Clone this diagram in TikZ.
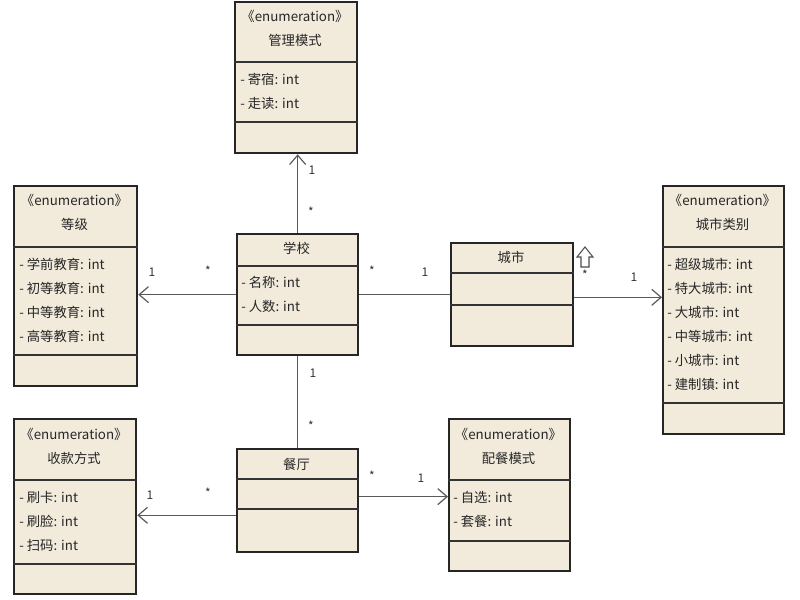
\documentclass[tikz,border=0pt]{standalone}
\usepackage{fontspec}
\setmainfont{Noto Sans CJK SC}
\usetikzlibrary{arrows.meta}

\newcommand{\px}{0.75pt}
\definecolor{classfill}{HTML}{F2EBDC}
\definecolor{linegray}{HTML}{5A5A5A}

\tikzset{
    classbox/.style={draw=black!85, fill=classfill, line width=1.7pt, inner sep=0pt, anchor=north west},
    divider/.style={draw=black!80, line width=1pt},
    attr/.style={anchor=west, inner sep=0pt, font=\fontsize{10}{12}\selectfont, text=black!85},
    title/.style={inner sep=0pt, font=\fontsize{10}{12}\selectfont, text=black!85},
    assoc/.style={draw=linegray, line width=0.9pt},
    nav/.style={assoc, -{Straight Barb[length=7pt, width=12pt]}},
    mult/.style={inner sep=0pt, font=\fontsize{9}{11}\selectfont, text=black!80},
}

\begin{document}
\begin{tikzpicture}[x=\px, y=-\px]
    \useasboundingbox (0, 0) rectangle (800, 600);

    % 管理模式
    \node[classbox, minimum width=122*\px, minimum height=151*\px] (guanli) at (234, 1) {};
    \draw[divider] (guanli.west |- 0, 62) -- (guanli.east |- 0, 62);
    \draw[divider] (guanli.west |- 0, 122) -- (guanli.east |- 0, 122);
    \node[title] (guanlist) at (295, 16) {《enumeration》};
    \node[title] (guanliname) at (295, 40) {管理模式};
    \node[attr] (guanlia) at (240, 79) {- 寄宿: int};
    \node[attr] (guanlib) at (240, 103) {- 走读: int};

    % 等级
    \node[classbox, minimum width=123*\px, minimum height=200*\px] (dengji) at (13, 185) {};
    \draw[divider] (dengji.west |- 0, 247) -- (dengji.east |- 0, 247);
    \draw[divider] (dengji.west |- 0, 355) -- (dengji.east |- 0, 355);
    \node[title] (dengjist) at (74.5, 200) {《enumeration》};
    \node[title] (dengjiname) at (74.5, 224) {等级};
    \node[attr] (dengjia) at (19, 264) {- 学前教育: int};
    \node[attr] (dengjib) at (19, 288) {- 初等教育: int};
    \node[attr] (dengjic) at (19, 312) {- 中等教育: int};
    \node[attr] (dengjid) at (19, 336) {- 高等教育: int};

    % 学校
    \node[classbox, minimum width=121*\px, minimum height=121*\px] (xuexiao) at (236, 233) {};
    \draw[divider] (xuexiao.west |- 0, 266) -- (xuexiao.east |- 0, 266);
    \draw[divider] (xuexiao.west |- 0, 325) -- (xuexiao.east |- 0, 325);
    \node[title] (xuexiaoname) at (296.5, 248) {学校};
    \node[attr] (xuexiaoa) at (241, 282) {- 名称: int};
    \node[attr] (xuexiaob) at (241, 306) {- 人数: int};

    % 城市
    \node[classbox, minimum width=122*\px, minimum height=103*\px] (chengshi) at (450, 242) {};
    \draw[divider] (chengshi.west |- 0, 273) -- (chengshi.east |- 0, 273);
    \draw[divider] (chengshi.west |- 0, 305) -- (chengshi.east |- 0, 305);
    \node[title] (chengshiname) at (511, 257) {城市};

    % 城市类别
    \node[classbox, minimum width=121*\px, minimum height=248*\px] (leibie) at (662, 185) {};
    \draw[divider] (leibie.west |- 0, 247) -- (leibie.east |- 0, 247);
    \draw[divider] (leibie.west |- 0, 403) -- (leibie.east |- 0, 403);
    \node[title] (leibiest) at (722.5, 200) {《enumeration》};
    \node[title] (leibiename) at (722.5, 224) {城市类别};
    \node[attr] (leibiea) at (667, 264) {- 超级城市: int};
    \node[attr] (leibieb) at (667, 288) {- 特大城市: int};
    \node[attr] (leibiec) at (667, 312) {- 大城市: int};
    \node[attr] (leibied) at (667, 336) {- 中等城市: int};
    \node[attr] (leibiee) at (667, 360) {- 小城市: int};
    \node[attr] (leibief) at (667, 384) {- 建制镇: int};

    % 收款方式
    \node[classbox, minimum width=122*\px, minimum height=175*\px] (shoukuan) at (13, 418) {};
    \draw[divider] (shoukuan.west |- 0, 480) -- (shoukuan.east |- 0, 480);
    \draw[divider] (shoukuan.west |- 0, 564) -- (shoukuan.east |- 0, 564);
    \node[title] (shoukuanst) at (74, 434) {《enumeration》};
    \node[title] (shoukuanname) at (74, 458) {收款方式};
    \node[attr] (shoukuana) at (19, 497) {- 刷卡: int};
    \node[attr] (shoukuanb) at (19, 521) {- 刷脸: int};
    \node[attr] (shoukuanc) at (19, 545) {- 扫码: int};

    % 餐厅
    \node[classbox, minimum width=121*\px, minimum height=103*\px] (canting) at (236, 448) {};
    \draw[divider] (canting.west |- 0, 479) -- (canting.east |- 0, 479);
    \draw[divider] (canting.west |- 0, 509) -- (canting.east |- 0, 509);
    \node[title] (cantingname) at (296.5, 464) {餐厅};

    % 配餐模式
    \node[classbox, minimum width=121*\px, minimum height=152*\px] (peican) at (448, 418) {};
    \draw[divider] (peican.west |- 0, 480) -- (peican.east |- 0, 480);
    \draw[divider] (peican.west |- 0, 541) -- (peican.east |- 0, 541);
    \node[title] (peicanst) at (508.5, 434) {《enumeration》};
    \node[title] (peicanname) at (508.5, 458) {配餐模式};
    \node[attr] (peicana) at (453, 497) {- 自选: int};
    \node[attr] (peicanb) at (453, 521) {- 套餐: int};


    % associations
    \draw[nav] (xuexiao.north) -- (xuexiao.north |- guanli.south);
    \node[mult] at (312, 170) {1};
    \node[mult] at (311, 212) {*};

    \draw[nav] (xuexiao.west) -- (xuexiao.west -| dengji.east);
    \node[mult] at (152, 272) {1};
    \node[mult] at (208, 271) {*};

    \draw[assoc] (xuexiao.east) -- (xuexiao.east -| chengshi.west);
    \node[mult] at (372, 271) {*};
    \node[mult] at (425, 272) {1};

    \draw[nav] ([yshift=-2pt]chengshi.east) -- ([yshift=-2pt]chengshi.east -| leibie.west);
    % hollow up arrow
    \draw[draw=black!70, line width=0.8pt, fill=white, line join=miter]
        (585, 247) -- (593, 257) -- (589, 257) -- (589, 267) -- (581, 267)
        -- (581, 257) -- (577, 257) -- cycle;
    \node[mult] at (585, 275) {*};
    \node[mult] at (634, 277) {1};

    \draw[assoc] (xuexiao.south) -- (xuexiao.south |- canting.north);
    \node[mult] at (313, 373) {1};
    \node[mult] at (311, 426) {*};

    \draw[nav] ([yshift=-11pt]canting.west) -- ([yshift=-11pt]canting.west -| shoukuan.east);
    \node[mult] at (150, 495) {1};
    \node[mult] at (208, 493) {*};

    \draw[nav] ([yshift=3pt]canting.east) -- ([yshift=3pt]canting.east -| peican.west);
    \node[mult] at (372, 476) {*};
    \node[mult] at (421, 478) {1};
\end{tikzpicture}
\end{document}
